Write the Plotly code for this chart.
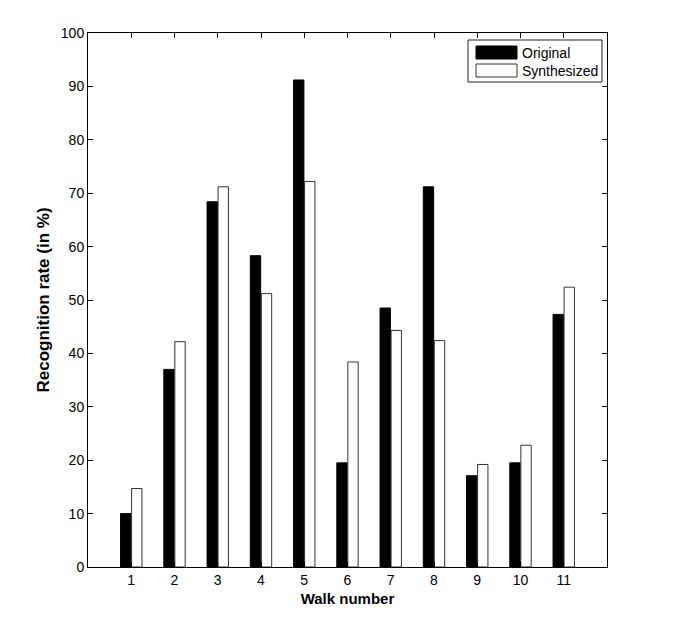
import plotly.graph_objects as go

walks = list(range(1, 12))
original = [10.0, 37.0, 68.4, 58.3, 91.2, 19.5, 48.5, 71.2, 17.1, 19.5, 47.3]
synthesized = [14.7, 42.2, 71.2, 51.2, 72.2, 38.4, 44.3, 42.4, 19.2, 22.8, 52.4]
series_names = ['Original', 'Synthesized']

font_family = 'Liberation Sans, Arial, Helvetica, sans-serif'

# page body adds an 8px offset, margins are set to compensate
W, H = 685, 617
L, R, T, B = 80, 86, 25, 58
plot_x0, plot_x1 = 8 + L, 8 + W - R
plot_y0, plot_y1 = 8 + T, 8 + H - B


def px_x(x):
    return (x - plot_x0) / (plot_x1 - plot_x0)


def px_y(y):
    return (plot_y1 - y) / (plot_y1 - plot_y0)


fig = go.Figure()
fig.add_trace(go.Bar(
    x=walks,
    y=original,
    name=series_names[0],
    marker=dict(color='black', line=dict(color='black', width=1)),
))
fig.add_trace(go.Bar(
    x=walks,
    y=synthesized,
    name=series_names[1],
    marker=dict(color='white', line=dict(color='#333333', width=1)),
))

# matlab-style legend box drawn by hand
shapes = [
    dict(type='rect', xref='paper', yref='paper',
         x0=px_x(468), x1=px_x(602), y0=px_y(82), y1=px_y(40),
         line=dict(color='#222222', width=1), fillcolor='white', layer='above'),
    dict(type='rect', xref='paper', yref='paper',
         x0=px_x(476), x1=px_x(517), y0=px_y(59), y1=px_y(46),
         line=dict(color='black', width=1), fillcolor='black', layer='above'),
    dict(type='rect', xref='paper', yref='paper',
         x0=px_x(476), x1=px_x(517), y0=px_y(77), y1=px_y(64),
         line=dict(color='#333333', width=1), fillcolor='white', layer='above'),
]
annotations = [
    dict(text=series_names[0], xref='paper', yref='paper', x=px_x(520), y=px_y(53),
         xanchor='left', yanchor='middle', showarrow=False, font=dict(size=14)),
    dict(text=series_names[1], xref='paper', yref='paper', x=px_x(520), y=px_y(71),
         xanchor='left', yanchor='middle', showarrow=False, font=dict(size=14)),
]

fig.update_layout(
    width=W,
    height=H,
    margin=dict(l=L, r=R, t=T, b=B),
    paper_bgcolor='white',
    plot_bgcolor='white',
    barmode='group',
    bargap=0.49,
    bargroupgap=0.06,
    font=dict(family=font_family, size=14, color='black'),
    showlegend=False,
    shapes=shapes,
    annotations=annotations,
)

fig.update_xaxes(
    range=[0, 12],
    tickmode='array',
    tickvals=walks,
    ticktext=[str(w) for w in walks],
    ticks='inside', ticklen=5, tickcolor='black',
    showline=True, linecolor='black', linewidth=1, mirror='ticks',
    showgrid=False, zeroline=False,
    title=dict(text='<b>Walk number</b>', font=dict(size=15), standoff=6),
)
fig.update_yaxes(
    range=[0, 100],
    dtick=10,
    ticks='inside', ticklen=5, tickcolor='black',
    showline=True, linecolor='black', linewidth=1, mirror='ticks',
    showgrid=False, zeroline=False,
    title=dict(text='<b>Recognition rate (in %)</b>', font=dict(size=17), standoff=6),
)

fig.write_html("out.html")
